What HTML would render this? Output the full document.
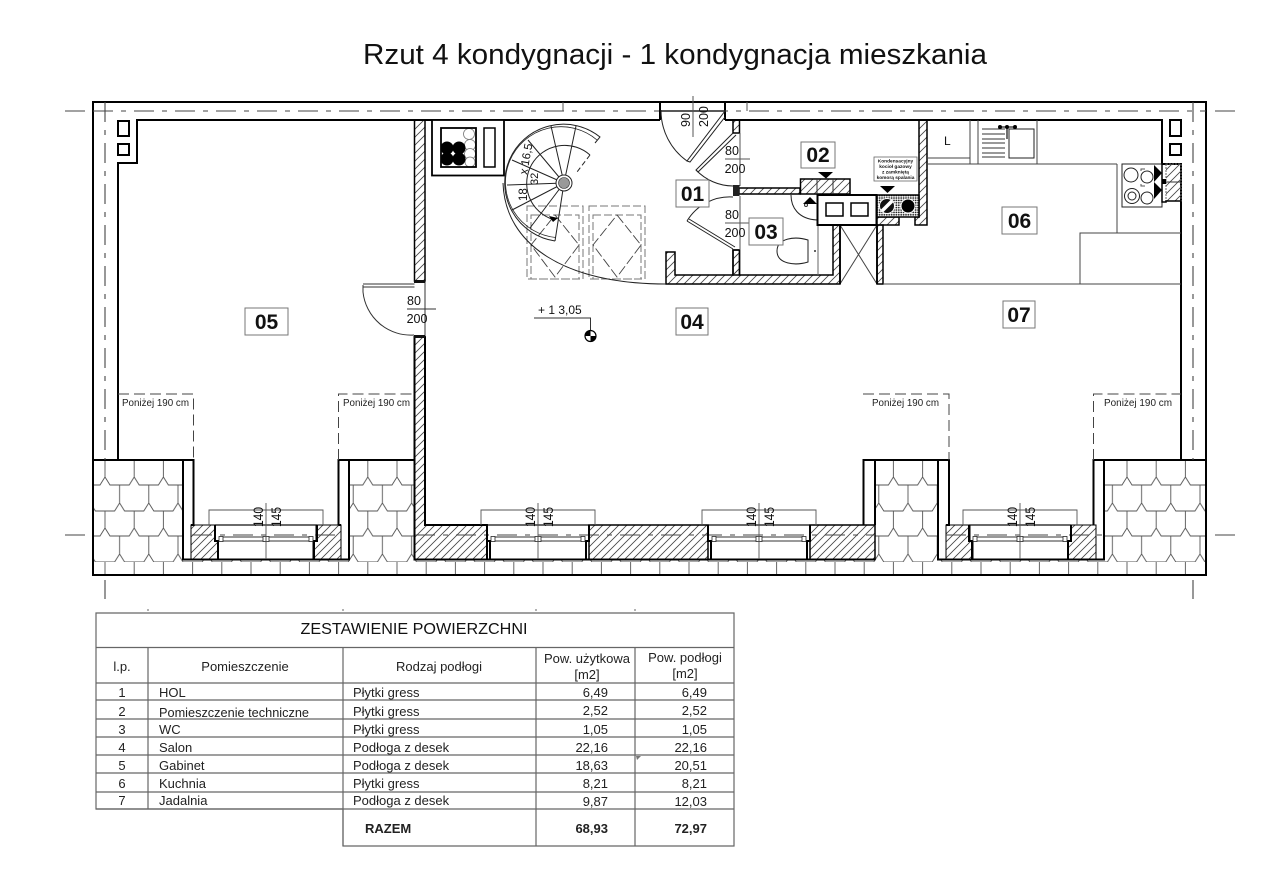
<!DOCTYPE html>
<html><head><meta charset="utf-8"><style>
html,body{margin:0;padding:0;background:#fff}
svg{display:block}
text{font-family:"Liberation Sans",sans-serif;fill:#111}
.t{font-size:13px;fill:#222}
.d{font-size:12.5px}
.lb{font-size:21px;font-weight:bold;text-anchor:middle}
.p{font-size:10px;fill:#222}
</style></head><body>
<svg width="1280" height="891" viewBox="0 0 1280 891" xmlns="http://www.w3.org/2000/svg">
<defs>
<pattern id="h" width="8" height="8" patternUnits="userSpaceOnUse"><path d="M-1 9L9 -1M-1 1L1 -1M7 9L9 7" stroke="#444" stroke-width=".8" fill="none"/></pattern>
<pattern id="ts" x="105" y="460" width="29.2" height="102" patternUnits="userSpaceOnUse">
<path d="M0 0V17L5 25H24.2L29.2 17V0M0 17L-5 25M14.6 25V43L9.6 51H-1M14.6 43L19.6 51H30.2M0 51V68L5 76H24.2L29.2 68V51M14.6 76V94L9.6 102H-1M14.6 94L19.6 102H30.2" fill="none" stroke="#555" stroke-width=".9"/>
</pattern>
<pattern id="dot" width="2.4" height="2.4" patternUnits="userSpaceOnUse"><rect width="2.4" height="2.4" fill="#fff"/><circle cx="1.2" cy="1.2" r=".9" fill="#222"/></pattern>
<g id="win">
<path d="M-51 0H51" stroke="#111" stroke-width="1.2"/>
<path d="M-51 0V16H-48V34M51 0V16H48V34" fill="none" stroke="#000" stroke-width="2"/>
<path d="M-45 12H45M-45 16H45" stroke="#333" stroke-width=".9"/>
<rect x="-47" y="11.500" width="4" height="5" fill="#fff" stroke="#222" stroke-width=".8"/>
<rect x="43" y="11.500" width="4" height="5" fill="#fff" stroke="#222" stroke-width=".8"/>
<rect x="-3" y="11.500" width="3" height="5" fill="#fff" stroke="#222" stroke-width=".8"/>
<rect x="0" y="11.500" width="3" height="5" fill="#fff" stroke="#222" stroke-width=".8"/>
<path d="M-57 0V-15H57V0M0 -22V34" fill="none" stroke="#555" stroke-width=".9"/>
</g>
</defs>
<rect width="1280" height="891" fill="#fff"/>
<text x="363" y="64" font-size="29" textLength="624" lengthAdjust="spacingAndGlyphs">Rzut 4 kondygnacji - 1 kondygnacja mieszkania</text>

<!-- tiles -->
<rect x="93" y="460" width="90" height="115" fill="url(#ts)"/>
<rect x="183" y="560" width="166" height="15" fill="url(#ts)"/>
<rect x="349" y="460" width="65" height="115" fill="url(#ts)"/>
<rect x="414" y="560" width="461" height="15" fill="url(#ts)"/>
<rect x="875" y="460" width="63" height="115" fill="url(#ts)"/>
<rect x="938" y="560" width="166" height="15" fill="url(#ts)"/>
<rect x="1104" y="460" width="102" height="115" fill="url(#ts)"/>

<!-- hatched walls -->
<g fill="url(#h)" stroke="#000" stroke-width="1.500">
<rect x="414.500" y="120" width="10.500" height="161"/>
<path d="M414.500 337H425V525H487V559.500H414.500Z" stroke-width="2"/>
<rect x="589" y="525" width="119" height="34.500"/>
<path d="M810 525H863.500V525H875V559.500H810Z"/>
<path d="M191 525H215V541H218V559.500H191Z" stroke-width="1"/>
<path d="M316 525H341V559.500H313V541H316Z" stroke-width="1"/>
<path d="M946 525H970V541H973V559.500H946Z" stroke-width="1"/>
<path d="M1071 525H1096V559.500H1068V541H1071Z" stroke-width="1"/>
<rect x="733" y="120" width="6.500" height="13"/>
<rect x="739" y="188" width="61" height="6"/>
<rect x="733" y="250" width="6.500" height="25"/>
<path d="M666 252H675V275H733V250H739.500V275H833V225H840V284H666Z"/>
<rect x="877" y="225" width="6" height="59"/>
<rect x="877" y="217" width="22" height="8"/>
<path d="M919 120H927V225H915V217H919Z"/>
</g>
<rect x="733" y="185" width="6.500" height="11" fill="#222"/>

<!-- outer shell -->
<g fill="none" stroke="#000" stroke-width="2">
<rect x="93" y="102" width="1113" height="473"/>
<path d="M118 460V163H137V120H660M725 120H1162V164M1162 164H1181V460"/>
<path d="M660 102V120M725 102V120"/>
<path d="M93 460H193.500V525H191M183 460V559.500H349V460M338.500 525V460H414M338.500 525H341"/>
<path d="M863.500 525V460H949V525H946M875 460V525M938 460V559.500H1104V460M1093.500 525V460H1206"/>
<path d="M414 559.500H875"/>
<rect x="118" y="121" width="11" height="15"/>
<rect x="118" y="144" width="11" height="11"/>
<rect x="1170" y="120" width="11" height="16"/>
<rect x="1170" y="144" width="11" height="11"/>
</g>
<path d="M563 102V111M747 102V111" stroke="#555" stroke-width="1" fill="none"/>

<!-- axes -->
<g fill="none" stroke="#444" stroke-width="1.100">
<path d="M65 111H85M1215 111H1235M65 535H85M1215 535H1235M105 580V599M1193 580V599"/>
<path d="M93 111H1206M105 102V460M1193 102V460" stroke-dasharray="20 8 5 8"/>
<path d="M192 535H340M415 535H875M946 535H1104" stroke-dasharray="20 8 5 8" stroke-width=".9"/>
</g>

<!-- windows -->
<use href="#win" x="266" y="525"/>
<use href="#win" x="538" y="525"/>
<use href="#win" x="759" y="525"/>
<use href="#win" x="1020" y="525"/>
<g>
<text transform="translate(263 527) rotate(-90)" font-size="14" textLength="20" lengthAdjust="spacingAndGlyphs">140</text>
<text transform="translate(281 527) rotate(-90)" font-size="14" textLength="20" lengthAdjust="spacingAndGlyphs">145</text>
<text transform="translate(535 527) rotate(-90)" font-size="14" textLength="20" lengthAdjust="spacingAndGlyphs">140</text>
<text transform="translate(553 527) rotate(-90)" font-size="14" textLength="20" lengthAdjust="spacingAndGlyphs">145</text>
<text transform="translate(756 527) rotate(-90)" font-size="14" textLength="20" lengthAdjust="spacingAndGlyphs">140</text>
<text transform="translate(774 527) rotate(-90)" font-size="14" textLength="20" lengthAdjust="spacingAndGlyphs">145</text>
<text transform="translate(1017 527) rotate(-90)" font-size="14" textLength="20" lengthAdjust="spacingAndGlyphs">140</text>
<text transform="translate(1035 527) rotate(-90)" font-size="14" textLength="20" lengthAdjust="spacingAndGlyphs">145</text>
</g>

<!-- below 190 -->
<g fill="none" stroke="#444" stroke-width="1" stroke-dasharray="11 5">
<path d="M118 394H193.500V460"/>
<path d="M338.500 460V394H414"/>
<path d="M863 394H949V460"/>
<path d="M1093.500 460V394H1181"/>
</g>
<text class="p" x="122" y="406" textLength="67" lengthAdjust="spacingAndGlyphs">Poniżej 190 cm</text>
<text class="p" x="343" y="406" textLength="67" lengthAdjust="spacingAndGlyphs">Poniżej 190 cm</text>
<text class="p" x="872" y="406" textLength="67" lengthAdjust="spacingAndGlyphs">Poniżej 190 cm</text>
<text class="p" x="1104" y="406" textLength="68" lengthAdjust="spacingAndGlyphs">Poniżej 190 cm</text>

<!-- door 05 -->
<g fill="none" stroke="#333" stroke-width="1">
<path d="M363 284H414.500M363 287H414.500M363 285V292A48 48 0 0 0 414 335"/>
<path d="M407 309H436M425 281V337"/>
</g>
<rect x="414" y="280" width="11" height="3" fill="#111"/>
<rect x="414" y="335" width="11" height="3" fill="#111"/>
<text class="d" x="414" y="305" text-anchor="middle">80</text>
<text class="d" x="417" y="323" text-anchor="middle">200</text>

<!-- level -->
<text x="538" y="314" font-size="12">+ 1 3,05</text>
<path d="M534 318H590.500V333" fill="none" stroke="#333"/>
<circle cx="590.500" cy="336" r="5.500" fill="#fff" stroke="#000" stroke-width="1.200"/>
<path d="M590.500 336H585A5.500 5.500 0 0 1 590.500 330.500ZM590.500 336H596A5.500 5.500 0 0 1 590.500 341.500Z" fill="#000"/>

<!-- fireplace -->
<rect x="432" y="120" width="72" height="55.500" fill="#fff" stroke="#000" stroke-width="1.800"/>
<g fill="#fff" stroke="#777" stroke-width=".8"><circle cx="469" cy="134" r="5.500"/><circle cx="470" cy="145" r="5.500"/><circle cx="470" cy="154" r="5.500"/><circle cx="470" cy="162" r="5"/></g>
<rect x="441" y="128" width="35" height="39" fill="none" stroke="#000" stroke-width="1.800"/>
<rect x="484" y="128" width="11" height="39" fill="#fff" stroke="#000" stroke-width="1.500"/>
<g fill="#000"><circle cx="447" cy="148" r="6.500"/><circle cx="459" cy="148" r="6.500"/><circle cx="447" cy="159" r="6.500"/><circle cx="459" cy="159" r="6.500"/></g>

<!-- stair -->
<g fill="none" stroke="#777" stroke-width="1" stroke-dasharray="8 3">
<rect x="527" y="206" width="56" height="73"/><rect x="531" y="215" width="48" height="64"/>
<rect x="589" y="206" width="56" height="73"/><rect x="593" y="215" width="48" height="64"/>
</g>
<g fill="none" stroke="#444" stroke-width=".9" stroke-dasharray="10 3">
<path d="M555 215L579 245L555 277L531 245Z"/><path d="M617 215L641 245L617 277L593 245Z"/>
</g>
<g fill="none" stroke="#222" stroke-width="1">
<path d="M564 183L576 126M564 183L551 126M564 183L528 140M564 183L512 160M564 183L507 185M564 183L512 210M564 183L530 228M564 183L555 241"/>
<path d="M555 241A58.700 58.700 0 1 1 600 137L595 143"/>
<path d="M556 237.500A55.500 55.500 0 1 1 597 140" stroke-width=".8"/>
<path d="M553 219.500A38 38 0 1 1 590 155"/>
<path d="M503 183C505 245 565 284 666 284" stroke-width="1"/>
<path d="M590 155L577 172" stroke-dasharray="5 3"/>
</g>
<path d="M549 216L558 218L553 222Z" fill="#000"/>
<circle cx="564" cy="183" r="8" fill="#fff" stroke="#222"/>
<circle cx="564" cy="183" r="5.500" fill="#999" stroke="#333" stroke-width=".6"/>
<text transform="translate(527 175) rotate(-80)" font-size="11.500">x 16,5</text>
<text transform="translate(538 185) rotate(-90)" font-size="11">32</text>
<text transform="translate(527 201) rotate(-90)" font-size="11.500">18</text>

<!-- entry & doors -->
<g fill="none" stroke="#222" stroke-width="1">
<path d="M661 111H725" stroke-width="1.500"/><path d="M661 110A62 62 0 0 0 687 161"/>
<path d="M725 111L687 161L690 162L725 117"/>
<path d="M693 96V137" stroke="#555"/>
<path d="M733 133L696 170L698 172L736 135"/>
<path d="M696 170A52 52 0 0 0 733 186"/>
<path d="M733 197A50 50 0 0 0 687 221"/>
<path d="M687 221L733 249M689 219L735 247"/>
<path d="M740 133V186M725 159H750M725 223H750M740 196V250" stroke="#555"/>
</g>
<text transform="translate(690 127) rotate(-90)" font-size="12.500">90</text>
<text transform="translate(708 127) rotate(-90)" font-size="12.500">200</text>
<text class="d" x="732" y="155" text-anchor="middle">80</text>
<text class="d" x="735" y="173" text-anchor="middle">200</text>
<text class="d" x="732" y="219" text-anchor="middle">80</text>
<text class="d" x="735" y="237" text-anchor="middle">200</text>

<!-- WC & shaft -->
<g fill="none" stroke="#222" stroke-width="1">
<path d="M808 240C795 236 777 238 777 251C777 264 795 266 808 262Z"/>
<path d="M818 218V275" stroke="#666"/>
<path d="M791 195C791 207 798 219 817 220"/>
<path d="M840 225L877 284M877 225L840 284" stroke="#444"/>
<path d="M840 225V284M877 225V284" stroke="#000" stroke-width="1.800"/>
</g>
<circle cx="815" cy="251" r="1" fill="#333"/>
<circle cx="806" cy="205" r="1.500" fill="none" stroke="#333"/>

<!-- 02 block -->
<rect x="800.500" y="179" width="49.500" height="15" fill="url(#h)" stroke="#000" stroke-width="1.500"/>
<path d="M817 179V194M833 179V194" stroke="#333"/>
<path d="M818 172H833L826 178.500Z" fill="#000"/>
<rect x="817.500" y="195" width="59" height="30" fill="#fff" stroke="#000" stroke-width="2"/>
<rect x="826" y="203" width="17" height="13" fill="#fff" stroke="#000" stroke-width="1.500"/>
<rect x="851" y="203" width="17" height="13" fill="#fff" stroke="#000" stroke-width="1.500"/>
<path d="M803 204H817L810 197Z" fill="#000"/>

<!-- chimney -->
<rect x="877" y="195" width="42" height="22" fill="url(#dot)" stroke="#000" stroke-width="1.500"/>
<circle cx="887" cy="206" r="7.500" fill="#111" stroke="#fff" stroke-width="1"/>
<path d="M882 211L892 201" stroke="#fff" stroke-width="3.500"/>
<circle cx="908" cy="206" r="7" fill="#000" stroke="#fff" stroke-width="1"/>
<path d="M880 186H895L887.500 193Z" fill="#000"/>
<rect x="874" y="157" width="43" height="24" fill="#fff" stroke="#666" stroke-width=".8"/>
<g font-size="4.800" font-weight="bold" text-anchor="middle">
<text x="895.500" y="162.500">Kondensacyjny</text>
<text x="895.500" y="168">kocioł gazowy</text>
<text x="895.500" y="173.500">z zamkniętą</text>
<text x="895.500" y="179">komorą spalania</text>
</g>

<!-- kitchen -->
<g fill="none" stroke="#222" stroke-width="1">
<path d="M927 164H1117M970 120V164M978 120V164M1037 120V164M927 158H970" stroke="#444"/>
<rect x="1009" y="129" width="25" height="29"/>
<path d="M982 129H1005M982 134H1005M982 139H1005M982 143H1005M982 148H1005M982 153H1005M982 157H1005" stroke="#333"/>
<path d="M1000 127H1015M1007 127V139" stroke-width="1.300"/>
<path d="M1117 164V233M883 284H1181M1080 284V233H1181" stroke="#444"/>
<rect x="1122" y="164" width="40" height="43"/>
<circle cx="1131" cy="175" r="7"/><circle cx="1147" cy="177" r="6"/><circle cx="1132" cy="196" r="7.500"/><circle cx="1132" cy="196" r="4"/><circle cx="1147" cy="198" r="6"/>
<path d="M1145 169H1141V171M1145 186H1141V184" stroke="#555"/>
</g>
<g fill="#000"><circle cx="1000" cy="127" r="2"/><circle cx="1007" cy="127" r="2"/><circle cx="1015" cy="127" r="2"/></g>
<text x="944" y="145" font-size="12">L</text>
<path d="M1154 165V182L1162 173ZM1154 182V199L1162 190Z" fill="#000"/>
<rect x="1166" y="164" width="15" height="37" fill="url(#h)" stroke="#666" stroke-width="1" stroke-dasharray="2 1"/>
<path d="M1166 182H1181" stroke="#333"/>
<path d="M1162 164V202H1166V201H1181" fill="none" stroke="#000" stroke-width="1.500"/>
<rect x="1162" y="179" width="4" height="5" fill="#000"/>

<!-- labels -->
<g fill="#fff" stroke="#777" stroke-width="1">
<rect x="676" y="180" width="33" height="27"/>
<rect x="801" y="142" width="34" height="26"/>
<rect x="749" y="218" width="34" height="27"/>
<rect x="676" y="308" width="32" height="27"/>
<rect x="245" y="308" width="43" height="27"/>
<rect x="1002" y="207" width="35" height="27"/>
<rect x="1003" y="301" width="32" height="27"/>
</g>
<text class="lb" x="692.500" y="201">01</text>
<text class="lb" x="818" y="162">02</text>
<text class="lb" x="766" y="239">03</text>
<text class="lb" x="692" y="329">04</text>
<text class="lb" x="266.500" y="329">05</text>
<text class="lb" x="1019.500" y="228">06</text>
<text class="lb" x="1019" y="322">07</text>

<!-- table -->
<g fill="none" stroke="#666" stroke-width="1.200">
<path d="M96 613H734V846H343V809H96Z"/>
<path d="M96 647.500H734M96 683H734M96 700H734M96 719H734M96 737H734M96 755H734M96 773H734M96 792H734M96 809H734"/>
<path d="M148 647.500V809M343 647.500V846M536 647.500V846M635 647.500V846"/>
<path d="M148 609V611M343 609V611M536 609V611M635 609V611" stroke-width="1"/>
</g>
<path d="M636 756L641 756L637 760Z" fill="#777"/>
<text x="414" y="634" font-size="16" text-anchor="middle" textLength="227" lengthAdjust="spacingAndGlyphs">ZESTAWIENIE POWIERZCHNI</text>
<g class="t">
<text class="t" x="122" y="671" text-anchor="middle">l.p.</text>
<text class="t" x="245" y="671" text-anchor="middle">Pomieszczenie</text>
<text class="t" x="439" y="671" text-anchor="middle">Rodzaj podłogi</text>
<text class="t" x="587" y="663" text-anchor="middle">Pow. użytkowa</text>
<text class="t" x="587" y="679" text-anchor="middle">[m2]</text>
<text class="t" x="685" y="662" text-anchor="middle">Pow. podłogi</text>
<text class="t" x="685" y="678" text-anchor="middle">[m2]</text>

<text class="t" x="122" y="697" text-anchor="middle">1</text><text class="t" x="159" y="697">HOL</text><text class="t" x="353" y="697">Płytki gress</text><text class="t" x="608" y="697" text-anchor="end">6,49</text><text class="t" x="707" y="697" text-anchor="end">6,49</text>
<text class="t" x="122" y="716" text-anchor="middle">2</text><text class="t" x="159" y="717" textLength="150" lengthAdjust="spacingAndGlyphs">Pomieszczenie techniczne</text><text class="t" x="353" y="716">Płytki gress</text><text class="t" x="608" y="715" text-anchor="end">2,52</text><text class="t" x="707" y="715" text-anchor="end">2,52</text>
<text class="t" x="122" y="734" text-anchor="middle">3</text><text class="t" x="159" y="734">WC</text><text class="t" x="353" y="734">Płytki gress</text><text class="t" x="608" y="734" text-anchor="end">1,05</text><text class="t" x="707" y="734" text-anchor="end">1,05</text>
<text class="t" x="122" y="752" text-anchor="middle">4</text><text class="t" x="159" y="752">Salon</text><text class="t" x="353" y="752">Podłoga z desek</text><text class="t" x="608" y="752" text-anchor="end">22,16</text><text class="t" x="707" y="752" text-anchor="end">22,16</text>
<text class="t" x="122" y="770" text-anchor="middle">5</text><text class="t" x="159" y="770">Gabinet</text><text class="t" x="353" y="770">Podłoga z desek</text><text class="t" x="608" y="770" text-anchor="end">18,63</text><text class="t" x="707" y="770" text-anchor="end">20,51</text>
<text class="t" x="122" y="788" text-anchor="middle">6</text><text class="t" x="159" y="788">Kuchnia</text><text class="t" x="353" y="788">Płytki gress</text><text class="t" x="608" y="788" text-anchor="end">8,21</text><text class="t" x="707" y="788" text-anchor="end">8,21</text>
<text class="t" x="122" y="805" text-anchor="middle">7</text><text class="t" x="159" y="805">Jadalnia</text><text class="t" x="353" y="805">Podłoga z desek</text><text class="t" x="608" y="806" text-anchor="end">9,87</text><text class="t" x="707" y="806" text-anchor="end">12,03</text>

<text class="t" x="365" y="833" font-weight="bold">RAZEM</text>
<text class="t" x="608" y="833" font-weight="bold" text-anchor="end" font-size="14">68,93</text>
<text class="t" x="707" y="833" font-weight="bold" text-anchor="end" font-size="14">72,97</text>
</g>
</svg>
</body></html>
